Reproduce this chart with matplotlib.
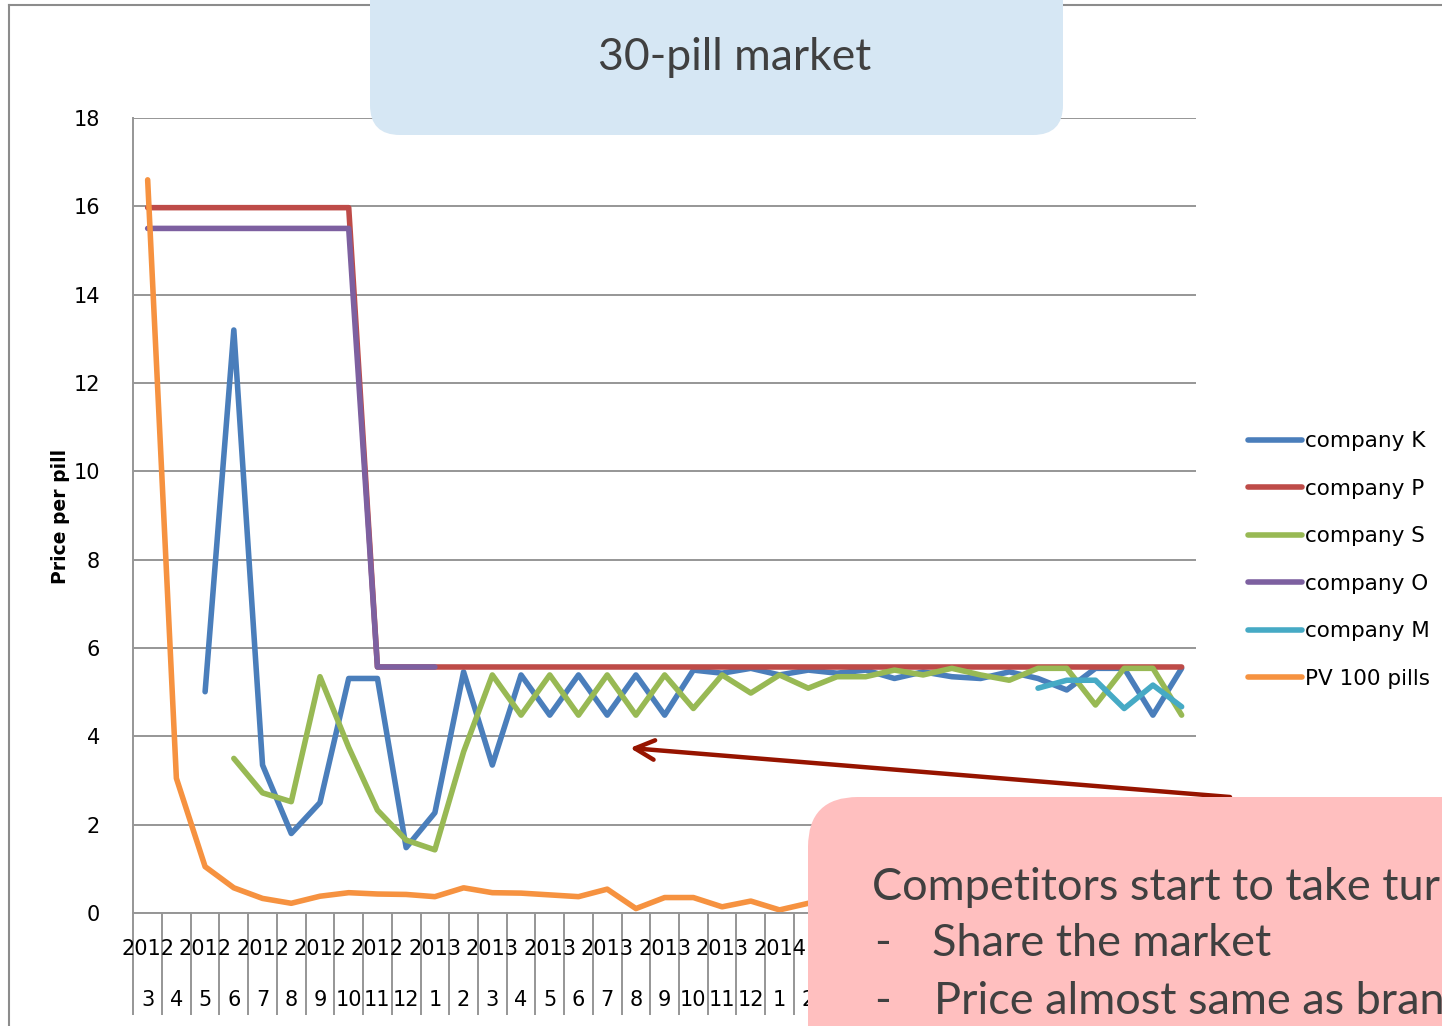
import numpy as np
import matplotlib
matplotlib.use("Agg")
import matplotlib.pyplot as plt
from matplotlib.patches import FancyBboxPatch, FancyArrowPatch
from matplotlib.transforms import IdentityTransform
from matplotlib.lines import Line2D

nan = np.nan

# categories: 2012-3 .. 2015-3
years = ["2012"] * 10 + ["2013"] * 12 + ["2014"] * 12 + ["2015"] * 3
months = ["3", "4", "5", "6", "7", "8", "9", "10", "11", "12",
          "1", "2", "3", "4", "5", "6", "7", "8", "9", "10", "11", "12",
          "1", "2", "3", "4", "5", "6", "7", "8", "9", "10", "11", "12",
          "1", "2", "3"]

company_k = [nan, nan, 5.01, 13.2, 3.35, 1.8, 2.5, 5.31, 5.31, 1.48, 2.27, 5.46,
             3.35, 5.39, 4.48, 5.39, 4.48, 5.39, 4.48, 5.5, 5.43, 5.54, 5.39, 5.5,
             5.43, 5.5, 5.31, 5.46, 5.35, 5.31, 5.46, 5.31, 5.05, 5.54, 5.54, 4.48, 5.54]
company_p = [15.97] * 8 + [5.57] * 29
company_s = [nan, nan, nan, 3.5, 2.72, 2.52, 5.35, 3.75, 2.33, 1.65, 1.43, 3.65,
             5.39, 4.48, 5.39, 4.48, 5.39, 4.48, 5.39, 4.63, 5.39, 4.98, 5.39, 5.09,
             5.35, 5.35, 5.5, 5.39, 5.54, 5.39, 5.27, 5.54, 5.54, 4.71, 5.54, 5.54, 4.48]
company_o = [15.5] * 8 + [5.57] * 3 + [nan] * 26
company_m = [nan] * 31 + [5.09, 5.27, 5.27, 4.63, 5.16, 4.67]
pv_100 = [16.6, 3.05, 1.05, 0.57, 0.33, 0.22, 0.38, 0.46, 0.43, 0.42, 0.37, 0.57,
          0.46, 0.45, 0.41, 0.37, 0.54, 0.1, 0.35, 0.35, 0.14, 0.27, 0.07, 0.22,
          0.3, 0.25, 0.3, 0.2, 0.3, 0.25, 0.3, 0.2, 0.25, 0.3, 0.2, 0.25, 0.2]

series = [("company K", company_k, "#4A7EBB"),
          ("company P", company_p, "#BE4B48"),
          ("company S", company_s, "#98B954"),
          ("company O", company_o, "#7D60A0"),
          ("company M", company_m, "#46AAC5"),
          ("PV 100 pills", pv_100, "#F69240")]

W, H = 1442, 1026
grey = "#969696"

fig = plt.figure(figsize=(W / 100, H / 100), dpi=100)
ax = fig.add_axes([133.3 / W, 1 - 913 / H, (1196 - 133.3) / W, (913 - 118) / H])

x = np.arange(len(months))
for name, vals, col in series:
    ax.plot(x, vals, color=col, lw=4.0, label=name,
            solid_joinstyle="round", solid_capstyle="round")

ax.set_xlim(-0.5, len(months) - 0.5)
ax.set_ylim(0, 18)
ax.set_yticks(range(0, 19, 2))
ax.grid(axis="y", color=grey, lw=1.4)
ax.set_axisbelow(True)
for s in ["top", "right"]:
    ax.spines[s].set_visible(False)
for s in ["left", "bottom"]:
    ax.spines[s].set_color(grey)
    ax.spines[s].set_linewidth(1.4)
ax.tick_params(axis="y", length=0, pad=24, labelsize=15)

ax.set_xticks(x)
ax.set_xticklabels([])
ax.tick_params(axis="x", which="major", length=0)
ax.set_xticks(np.arange(-0.5, len(months), 1), minor=True)
ax.tick_params(axis="x", which="minor", length=73.4, width=1.4, color=grey)

tr = ax.get_xaxis_transform()
for i in range(0, len(years), 2):
    ax.text(i, -0.0453, years[i], transform=tr, ha="center", va="center", fontsize=15)
for i, m in enumerate(months):
    ax.text(i, -0.1094, m, transform=tr, ha="center", va="center", fontsize=15)

fig.text(60 / W, 1 - 516 / H, "Price per pill", rotation=90, ha="center", va="center",
         fontsize=13.5, fontweight="bold")

ax.legend(loc="center left", bbox_to_anchor=(1248 / W, 1 - 560 / H),
          bbox_transform=fig.transFigure, frameon=False, fontsize=15.5,
          handlelength=2.5, handletextpad=0.15, labelspacing=1.28,
          borderpad=0, borderaxespad=0)

# slide frame
fig.add_artist(Line2D([9 / W, 9 / W], [0, 1 - 5 / H], transform=fig.transFigure,
                      color="#8c8c8c", lw=1.5, zorder=0.5))
fig.add_artist(Line2D([9 / W, 1], [1 - 5 / H, 1 - 5 / H], transform=fig.transFigure,
                      color="#8c8c8c", lw=1.5, zorder=0.5))

# title box
fig.add_artist(FancyBboxPatch((370, H - 135), 1063 - 370, 250,
                              boxstyle="round,pad=0,rounding_size=30",
                              transform=IdentityTransform(), fc="#D6E7F4", ec="none", zorder=1))
fig.text(735 / W, 1 - 57 / H, "30-pill market", ha="center", va="center",
         fontsize=32, family="Lato", color="#404040", zorder=3)

# arrow + note box
fig.add_artist(FancyArrowPatch((1230, H - 797), (630, H - 748),
                               arrowstyle="->,head_length=14,head_width=7",
                               transform=IdentityTransform(), color="#961400",
                               lw=3.2, shrinkA=0, shrinkB=0, zorder=1.5))
fig.add_artist(FancyBboxPatch((808, -200), 900, H - 797 + 200,
                              boxstyle="round,pad=0,rounding_size=50",
                              transform=IdentityTransform(), fc="#FFBFBF", ec="none", zorder=2))
note_kw = dict(ha="left", va="center", fontsize=32.5, family="Lato", color="#404040", zorder=3)
fig.text(872 / W, 1 - 888 / H, "Competitors start to take turns", **note_kw)
fig.text(874 / W, 1 - 944 / H, "-", **note_kw)
fig.text(932 / W, 1 - 944 / H, "Share the market", **note_kw)
fig.text(874 / W, 1 - 1002 / H, "-", **note_kw)
fig.text(934 / W, 1 - 1002 / H, "Price almost same as brand", **note_kw)

fig.savefig("out.png", dpi=100)
